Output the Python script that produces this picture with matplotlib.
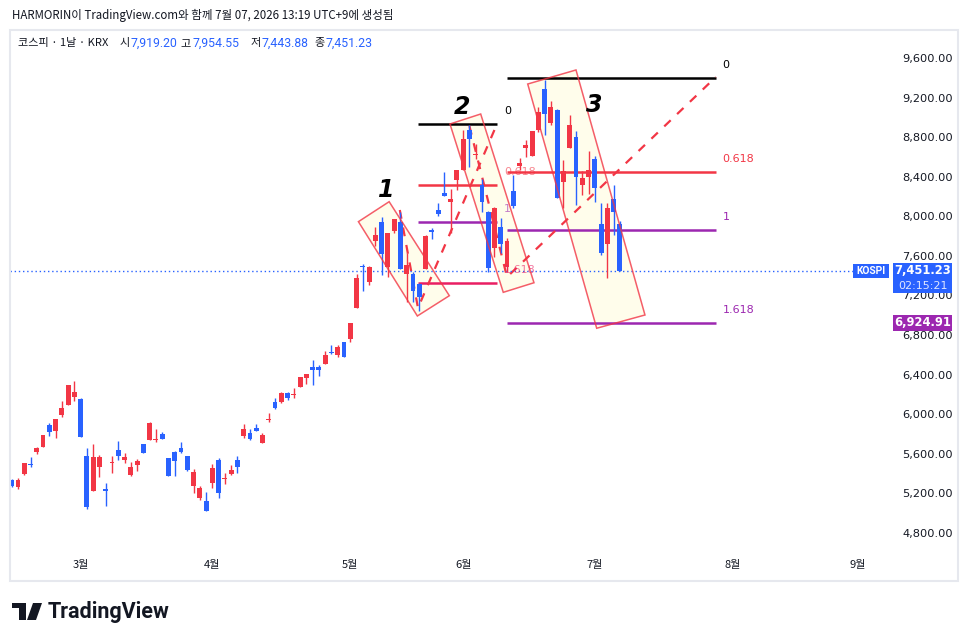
import matplotlib
matplotlib.use('Agg')
import matplotlib.pyplot as plt
from matplotlib.patches import Polygon, Rectangle
from matplotlib.transforms import blended_transform_factory

plt.rcParams['font.family'] = ['Noto Sans CJK KR', 'DejaVu Sans']

# daily KOSPI candles (bar index = position in list)
opens = [5336, 5268, 5396, 5494, 5619, 5672, 5891, 5834, 5996, 6097,
         6177, 6154, 5578, 5228, 5470, 5245, 5510, 5639, 5538, 5386,
         5487, 5699, 5743, 5740, 5801, 5558, 5619, 5659, 5578, 5275,
         5154, 5124, 5306, 5538, 5346, 5396, 5538, 5780, 5811, 5861,
         5709, 5945, 6124, 6124, 6215, 6195, 6275, 6366, 6478, 6478,
         6508, 6629, 6599, 6730, 6761, 7077, 7498, 7337, 7754, 7943,
         7488, 7852, 7943, 7417, 7417, 7319, 7471, 7865, 8064, 8239,
         8148, 8367, 8468, 8872, 8620, 8317, 8047, 7683, 7889, 7491,
         8256, 8512, 8688, 8610, 8872, 9287, 8940, 9075, 8344, 8693,
         8805, 8317, 8401, 8579, 7922, 7717, 8172, 7919.20]
highs = [5346, 5359, 5510, 5565, 5669, 5795, 5915, 5955, 6134, 6300,
         6336, 6164, 5659, 5699, 5588, 5305, 5578, 5730, 5606, 5518,
         5548, 5702, 5922, 5851, 5821, 5562, 5629, 5720, 5582, 5447,
         5275, 5214, 5497, 5558, 5406, 5487, 5578, 5902, 5851, 5902,
         5811, 6013, 6164, 6220, 6220, 6265, 6380, 6410, 6548, 6498,
         6639, 6700, 6697, 6735, 6925, 7417, 7518, 7498, 7889, 7993,
         7835, 7975, 8044, 7630, 7435, 7322, 7811, 7879, 8135, 8451,
         8276, 8470, 8872, 8923, 8731, 8377, 8050, 8097, 7980, 7784,
         8418, 8592, 8771, 8865, 9102, 9378, 9166, 9080, 8569, 9024,
         8862, 8458, 8660, 8613, 8132, 8132, 8317, 7954.55]
lows = [5268, 5242, 5386, 5470, 5602, 5670, 5783, 5763, 5975, 6095,
        6137, 5770, 5046, 5225, 5369, 5076, 5410, 5538, 5510, 5376,
        5430, 5610, 5740, 5723, 5750, 5374, 5376, 5609, 5427, 5204,
        5134, 5020, 5255, 5154, 5295, 5386, 5406, 5760, 5740, 5831,
        5706, 5922, 6053, 6114, 6144, 6164, 6272, 6306, 6296, 6387,
        6505, 6612, 6578, 6575, 6733, 7075, 7249, 7309, 7700, 7407,
        7390, 7835, 7468, 7138, 7138, 7047, 7468, 7774, 8003, 8207,
        7835, 8266, 8465, 8502, 8579, 8047, 7441, 7592, 7627, 7441,
        8081, 8468, 8603, 8605, 8855, 8822, 8923, 8185, 8081, 8690,
        8115, 8216, 8223, 8142, 7609, 7374, 7812, 7443.88]
closes = [5278, 5336, 5504, 5484, 5656, 5790, 5824, 5952, 6063, 6296,
          6225, 5773, 5066, 5565, 5565, 5228, 5518, 5578, 5565, 5464,
          5528, 5612, 5912, 5750, 5753, 5376, 5528, 5619, 5437, 5417,
          5255, 5023, 5457, 5204, 5356, 5437, 5467, 5851, 5750, 5831,
          5790, 5952, 6063, 6215, 6164, 6205, 6376, 6407, 6447, 6447,
          6599, 6619, 6680, 6578, 6922, 7377, 7485, 7488, 7812, 7620,
          7832, 7973, 7471, 7508, 7249, 7188, 7801, 7845, 8024, 8209,
          8175, 8468, 8781, 8781, 8630, 8148, 7475, 8081, 7717, 7751,
          8108, 8539, 8721, 8862, 9051, 9034, 9102, 8188, 8461, 8923,
          8401, 8390, 8468, 8289, 7632, 8081, 8041, 7451.23]

month_pos = [11, 32, 54, 72, 93, 115, 135]
month_labels = ['3월', '4월', '5월', '6월', '7월', '8월', '9월']
price_ticks = [4800, 5200, 5600, 6000, 6400, 6800, 7200, 7600, 8000, 8400, 8800, 9200, 9600]

# trend-based fib extensions: points A -> B -> C, levels drawn from B to C
fib_ratios = ['0', '0.618', '1', '1.618']
fib1_pts_x = [61.9, 64.8, 77.4]
fib1_pts_y = [8064, 7074, 8933]
fib1_prices = [8933, 8321, 7943, 7331]
fib1_colors = ['#000000', '#f23645', '#9c27b0', '#e91e63']
fib2_pts_x = [73.0, 79.0, 112.3]
fib2_pts_y = [8913, 7387, 9408]
fib2_prices = [9400, 8448, 7866, 6924.91]
fib2_colors = ['#000000', '#f23645', '#9c27b0', '#9c27b0']

# wave boxes (corners: bar index, price)
box1 = [(55.3, 7946), (60.2, 8148), (69.8, 7198), (64.7, 6993)]
box2 = [(69.9, 8933), (74.8, 9034), (83.3, 7329), (78.4, 7232)]
box3 = [(82.3, 9337), (90.0, 9479), (101.0, 7003), (93.3, 6869)]
wave_labels = ['1', '2', '3']
wave_pos = [(59.7, 8266), (71.8, 9105), (92.9, 9125)]

last_close = 7451.23
up_col = '#f23645'
dn_col = '#2962ff'

W, H = 969, 642
fig = plt.figure(figsize=(W / 100, H / 100), dpi=100)
ax = fig.add_axes([10 / W, 1 - 550 / H, 880 / W, 520 / H])
ax.set_xlim(-0.27, 140.08)
ax.set_ylim(4628.2, 9882.9)
for s in ax.spines.values():
    s.set_visible(False)

# candles
for i in range(len(opens)):
    o, h, l, c = opens[i], highs[i], lows[i], closes[i]
    col = up_col if c >= o else dn_col
    ax.vlines(i, l, h, color=col, lw=1, zorder=3)
    ax.bar(i, max(abs(c - o), 9), bottom=min(o, c), width=0.78, color=col, zorder=3, linewidth=0)

# boxes: fill under the candles, outline above
for b in [box1, box2, box3]:
    ax.add_patch(Polygon(b, closed=True, facecolor=(1, 0.96, 0.62, 0.2), edgecolor='none', zorder=1))
    ax.add_patch(Polygon(b, closed=True, facecolor='none',
                         edgecolor=(0.95, 0.21, 0.27, 0.8), lw=1.1, zorder=4))

# fib levels
for pts_x, pts_y, prices, cols, fade in [(fib1_pts_x, fib1_pts_y, fib1_prices, fib1_colors, 0.6),
                                         (fib2_pts_x, fib2_pts_y, fib2_prices, fib2_colors, 1.0)]:
    x0, x1 = pts_x[1], pts_x[2]
    for k, (r, p, col) in enumerate(zip(fib_ratios, prices, cols)):
        ax.hlines(p, x0, x1, color=col, lw=1.8, zorder=2)
        ax.text(x1 + 1.1, p + 80, r, color=col, fontsize=8, ha='left', va='bottom',
                family='DejaVu Sans', alpha=1.0 if k == 0 else fade, zorder=3)
    ax.plot(pts_x, pts_y, color='#f23645', lw=1.6, ls=(0, (4, 4)), zorder=2)

for lab, (wx, wy) in zip(wave_labels, wave_pos):
    ax.text(wx, wy, lab, fontsize=17, fontweight='bold', fontstyle='italic',
            family='DejaVu Sans', ha='center', va='center', color='#000000', zorder=5)

# last price dotted line
ax.plot([-0.27, 134.1], [last_close, last_close], color=dn_col, lw=1, ls=(0, (1, 2)), zorder=2)

ax.set_xticks(month_pos)
ax.set_xticklabels(month_labels)
ax.set_yticks(price_ticks)
ax.set_yticklabels([f'{v:,.2f}' for v in price_ticks])
ax.yaxis.tick_right()
ax.tick_params(axis='both', length=0, labelsize=8, colors='#131722')
ax.tick_params(axis='y', pad=9, labelsize=8.2)
ax.tick_params(axis='x', pad=7)
for t in ax.get_yticklabels():
    t.set_family('DejaVu Sans')

# price tags
tr = blended_transform_factory(ax.transAxes, ax.transData)
pp = (9882.9 - 4628.2) / 520  # price per pixel
ax.add_patch(Rectangle((1.0034, last_close - 22 * pp), 59 / 880, 30 * pp, transform=tr,
                       facecolor=dn_col, edgecolor='none', clip_on=False, zorder=6))
ax.text(1.0375, last_close, '7,451.23', transform=tr, color='white', fontsize=8.3,
        fontweight='bold', ha='center', va='center', family='DejaVu Sans', clip_on=False, zorder=7)
ax.text(1.0375, last_close - 15 * pp, '02:15:21', transform=tr, color='#dfe6ff', fontsize=8,
        ha='center', va='center', family='DejaVu Sans', clip_on=False, zorder=7)
ax.add_patch(Rectangle((1 - 37 / 880, last_close - 7 * pp), 36 / 880, 14 * pp, transform=tr,
                       facecolor=dn_col, edgecolor='none', clip_on=False, zorder=6))
ax.text(1 - 19 / 880, last_close, 'KOSPI', transform=tr, color='white', fontsize=7.4,
        fontweight='bold', ha='center', va='center', family='Roboto', clip_on=False, zorder=7)
ax.add_patch(Rectangle((1.0034, fib2_prices[3] - 8 * pp), 59 / 880, 16 * pp, transform=tr,
                       facecolor='#9c27b0', edgecolor='none', clip_on=False, zorder=6))
ax.text(1.0375, fib2_prices[3], '6,924.91', transform=tr, color='white', fontsize=8.3,
        fontweight='bold', ha='center', va='center', family='DejaVu Sans', clip_on=False, zorder=7)

# frame
fig.patches.append(Rectangle((10 / W, 1 - 581 / H), 948 / W, 551 / H, transform=fig.transFigure,
                             facecolor='none', edgecolor='#e6e8ee', lw=1.5))

# header
fig.text(12 / W, 1 - 15 / H, 'HARMORIN이 TradingView.com와 함께 7월 07, 2026 13:19 UTC+9에 생성됨',
         fontsize=8.3, color='#131722', va='center', ha='left')
hy = 1 - 43 / H
fig.text(18 / W, hy, '코스피 · 1날 · KRX', fontsize=8, color='#131722', va='center')
for lab, lx, val, vx in [('시', 119, '7,919.20', 131), ('고', 180, '7,954.55', 193),
                         ('저', 250, '7,443.88', 262), ('종', 314, '7,451.23', 326)]:
    fig.text(lx / W, hy, lab, fontsize=8, color='#131722', va='center')
    fig.text(vx / W, hy, val, fontsize=8.8, color=dn_col, va='center', family='Roboto')

# logo
fig.patches.append(Rectangle((12 / W, 1 - 608 / H), 14 / W, 5 / H, transform=fig.transFigure,
                             facecolor='#131722', edgecolor='none'))
fig.patches.append(Rectangle((19 / W, 1 - 620 / H), 7 / W, 14 / H, transform=fig.transFigure,
                             facecolor='#131722', edgecolor='none'))
fig.patches.append(Polygon([(33 / W, 1 - 603 / H), (42 / W, 1 - 603 / H), (36 / W, 1 - 620 / H),
                            (27 / W, 1 - 620 / H)], closed=True, transform=fig.transFigure,
                           facecolor='#131722', edgecolor='none'))
fig.text(48 / W, 1 - 612 / H, 'TradingView', fontsize=15.5, fontweight='bold', color='#131722',
         va='center', ha='left', family='Roboto')

fig.savefig('out.png', dpi=100)
